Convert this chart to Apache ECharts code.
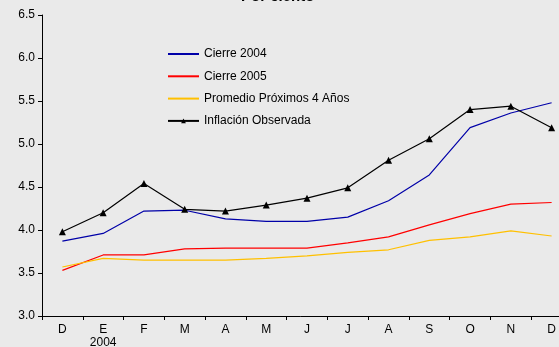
<!DOCTYPE html>
<html>
<head>
<meta charset="utf-8">
<script src="https://cdn.jsdelivr.net/npm/echarts@6/dist/echarts.min.js"></script>
<style>
  html, body { margin: 0; padding: 0; background: #eaeaea; }
  #chart { width: 559px; height: 347px; }
</style>
</head>
<body>
<div id="chart"></div>
<script>
// meses (dic 2003 - dic 2004)
const months = ['D', 'E\n2004', 'F', 'M', 'A', 'M', 'J', 'J', 'A', 'S', 'O', 'N', 'D'];
const cierre2004 = [3.87, 3.96, 4.22, 4.23, 4.13, 4.10, 4.10, 4.15, 4.34, 4.64, 5.19, 5.36, 5.48];
const cierre2005 = [3.53, 3.71, 3.71, 3.78, 3.79, 3.79, 3.79, 3.85, 3.92, 4.06, 4.19, 4.30, 4.32];
const promedio4 = [3.57, 3.67, 3.65, 3.65, 3.65, 3.67, 3.70, 3.74, 3.77, 3.88, 3.92, 3.99, 3.93];
const observada = [3.98, 4.20, 4.54, 4.24, 4.22, 4.29, 4.37, 4.49, 4.81, 5.06, 5.40, 5.44, 5.19];
const yTicks = [3.0, 3.5, 4.0, 4.5, 5.0, 5.5, 6.0, 6.5];

const font = 'Liberation Sans, Arial, sans-serif';
let myChart = echarts.init(document.getElementById('chart'));

// la leyenda solo muestra la linea en las tres primeras series
const noMark = { opacity: 0, borderWidth: 0 };

let option = {
  backgroundColor: '#eaeaea',
  animation: false,
  // titulo cortado por arriba, como en la imagen original
  graphic: [{
    type: 'text',
    left: 241,
    top: -11,
    style: {
      text: 'Por ciento',
      font: 'bold 15px ' + font,
      fill: '#000'
    }
  }],
  grid: {
    left: 42,
    width: 530,
    top: 15,
    height: 301,
    outerBoundsMode: 'none',
    containLabel: false
  },
  legend: {
    orient: 'vertical',
    left: 162,
    top: 43,
    itemWidth: 31,
    itemHeight: 6,
    itemGap: 10.3,
    textStyle: { fontFamily: font, fontSize: 12, color: '#000' },
    data: [
      { name: 'Cierre 2004', itemStyle: noMark },
      { name: 'Cierre 2005', itemStyle: noMark },
      { name: 'Promedio Próximos 4 Años', itemStyle: noMark },
      { name: 'Inflación Observada' }
    ]
  },
  xAxis: {
    type: 'category',
    data: months,
    boundaryGap: true,
    axisLine: { lineStyle: { color: '#000', width: 1 } },
    axisTick: { show: true, interval: 0, length: 4, inside: false, lineStyle: { color: '#000' } },
    axisLabel: {
      interval: 0,
      margin: 7,
      color: '#000',
      fontFamily: font,
      fontSize: 12,
      lineHeight: 13,
      verticalAlign: 'top'
    },
    splitLine: { show: false }
  },
  yAxis: {
    type: 'value',
    min: yTicks[0],
    max: yTicks[yTicks.length - 1],
    interval: 0.5,
    axisLine: { show: true, lineStyle: { color: '#000', width: 1 } },
    axisTick: { show: true, length: 4, lineStyle: { color: '#000' } },
    axisLabel: {
      margin: 7,
      color: '#000',
      fontFamily: font,
      fontSize: 12,
      formatter: function (v) { return v.toFixed(1); }
    },
    splitLine: { show: false }
  },
  series: [
    {
      name: 'Cierre 2004',
      type: 'line',
      symbol: 'none',
      data: cierre2004,
      lineStyle: { color: '#0000a8', width: 1.2 },
      itemStyle: { color: '#0000a8' }
    },
    {
      name: 'Cierre 2005',
      type: 'line',
      symbol: 'none',
      data: cierre2005,
      lineStyle: { color: '#ff0000', width: 1.2 },
      itemStyle: { color: '#ff0000' }
    },
    {
      name: 'Promedio Próximos 4 Años',
      type: 'line',
      symbol: 'none',
      data: promedio4,
      lineStyle: { color: '#ffc000', width: 1.2 },
      itemStyle: { color: '#ffc000' }
    },
    {
      name: 'Inflación Observada',
      type: 'line',
      symbol: 'triangle',
      symbolSize: 7,
      data: observada,
      lineStyle: { color: '#000', width: 1.2 },
      itemStyle: { color: '#000' }
    }
  ]
};
myChart.setOption(option);
</script>
</body>
</html>
